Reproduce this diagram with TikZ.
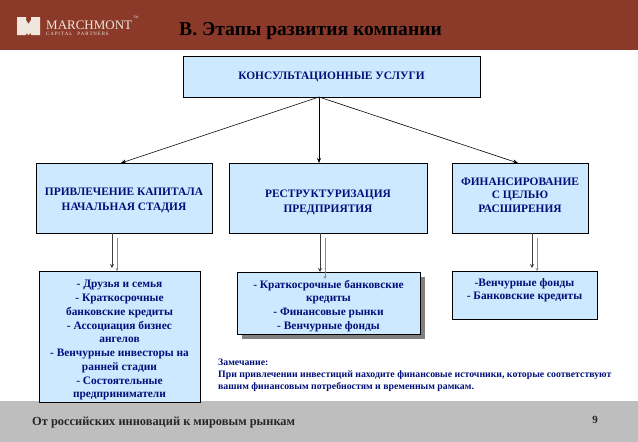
\documentclass[tikz,border=0pt]{standalone}
\usepackage{fontspec}
\setmainfont{Liberation Serif}
\usetikzlibrary{arrows.meta}
\definecolor{hdr}{HTML}{8B3A2A}
\definecolor{boxfill}{HTML}{CCE9FF}
\definecolor{navy}{HTML}{000F7A}
\definecolor{foot}{HTML}{BEBEBE}
\definecolor{logo}{HTML}{F0E6DC}
\newcommand{\dropby}[1]{\rule{0pt}{#1}}
\tikzset{x=1pt,y=-1pt,
  bx/.style={draw=black,line width=0.9pt,fill=boxfill,anchor=north west,inner sep=0pt,outer sep=0pt,align=center,text=navy,font=\fontsize{11.4}{15}\selectfont\bfseries},
  bxs/.style={bx,font=\fontsize{11.4}{13.75}\selectfont\bfseries},
  ar/.style={-{Stealth[length=5pt,width=4pt]},line width=0.6pt,black},
  dn/.style={-{Stealth[length=4pt,width=4pt]},line width=0.9pt,black!75},
  dg/.style={-{Stealth[length=3pt,width=3pt]},line width=0.7pt,black!45}}
\begin{document}
\begin{tikzpicture}
\useasboundingbox (0,0) rectangle (638,442);
\fill[white] (0,0) rectangle (638,442);
\fill[hdr] (0,0) rectangle (638,50);
\fill[foot] (0,401) rectangle (638,442);
% logo
\fill[logo] (17,17) rectangle (26,35) (31,17) rectangle (40,35) (26,20) -- (28.5,24) -- (31,20) -- (31,33) -- (28.5,35) -- (26,33) -- cycle;
\node[anchor=west,inner sep=0pt,text=logo,font=\fontsize{13}{13}\selectfont] (brand) at (46,25) {MARCHMONT};
\node[anchor=north west,inner sep=0pt,text=logo,font=\fontsize{3.5}{3.5}\selectfont] (tm) at (133,16) {TM};
\node[anchor=west,inner sep=0pt,text=logo,font=\fontsize{5}{5}\selectfont] (cap) at (46,33.5) {C\,A\,P\,I\,T\,A\,L\quad P\,A\,R\,T\,N\,E\,R\,S};
\node[anchor=west,inner sep=0pt,font=\fontsize{19.6}{19.6}\selectfont\bfseries] (title) at (179,31) {В. Этапы развития компании};
% boxes
\node[bx,minimum width=297pt,minimum height=41pt] (top) at (183,56) {КОНСУЛЬТАЦИОННЫЕ УСЛУГИ};
\node[bx,minimum width=176pt,minimum height=70pt] (a) at (36,163) {\dropby{13pt}ПРИВЛЕЧЕНИЕ КАПИТАЛА\\НАЧАЛЬНАЯ СТАДИЯ};
\node[bx,minimum width=198pt,minimum height=70pt] (b) at (229,163) {\dropby{16pt}РЕСТРУКТУРИЗАЦИЯ\\ПРЕДПРИЯТИЯ};
\node[bxs,minimum width=136pt,minimum height=70pt] (c) at (452,163) {ФИНАНСИРОВАНИЕ\\С ЦЕЛЬЮ\\РАСШИРЕНИЯ\rule[-6pt]{0pt}{6pt}};
\node[bxs,minimum width=161pt,minimum height=131pt] (a2) at (39,271) {\dropby{15pt}- Друзья и семья\\- Краткосрочные\\банковские кредиты\\- Ассоциация бизнес\\ангелов\\- Венчурные инвесторы на\\ранней стадии\\- Состоятельные\\предприниматели};
\fill[black!50] (242,277) rectangle (425,339);
\node[bxs,minimum width=183pt,minimum height=62pt] (b2) at (237,272) {\dropby{14pt}- Краткосрочные банковские\\кредиты\\- Финансовые рынки\\- Венчурные фонды};
\node[bxs,minimum width=145pt,minimum height=48pt,text depth=12pt] (c2) at (452,271) {-Венчурные фонды\\- Банковские кредиты};
% connectors
\coordinate (hub) at (319,97);
\coordinate (ain) at (121,163);
\coordinate (bin) at (319,163);
\coordinate (cin) at (518,163);
\draw[ar] (hub) -- (ain);
\draw[ar] (hub) -- (bin);
\draw[ar] (hub) -- (cin);
\draw[dn] (112,233) -- (112,268);
\draw[dg] (117,238) -- (117,271);
\draw[dn] (320,233) -- (320,272);
\draw[dg] (325,238) -- (325,279);
\draw[dn] (532,233) -- (532,268);
\draw[dg] (537,238) -- (537,271);
% note
\node[anchor=north west,inner sep=0pt,align=left,text=navy,font=\fontsize{9.8}{12}\selectfont\bfseries] (note) at (218,358.5) {Замечание:\\При привлечении инвестиций находите финансовые источники, которые соответствуют\\вашим финансовым потребностям  и временным рамкам.};
% footer
\node[anchor=west,inner sep=0pt,text=black!85,font=\fontsize{12.4}{12.4}\selectfont\bfseries] (ft) at (32,423) {От российских инноваций к мировым рынкам};
\node[anchor=center,inner sep=0pt,text=black!85,font=\fontsize{11}{11}\selectfont\bfseries] (pg) at (595,420) {9};
\end{tikzpicture}
\end{document}
